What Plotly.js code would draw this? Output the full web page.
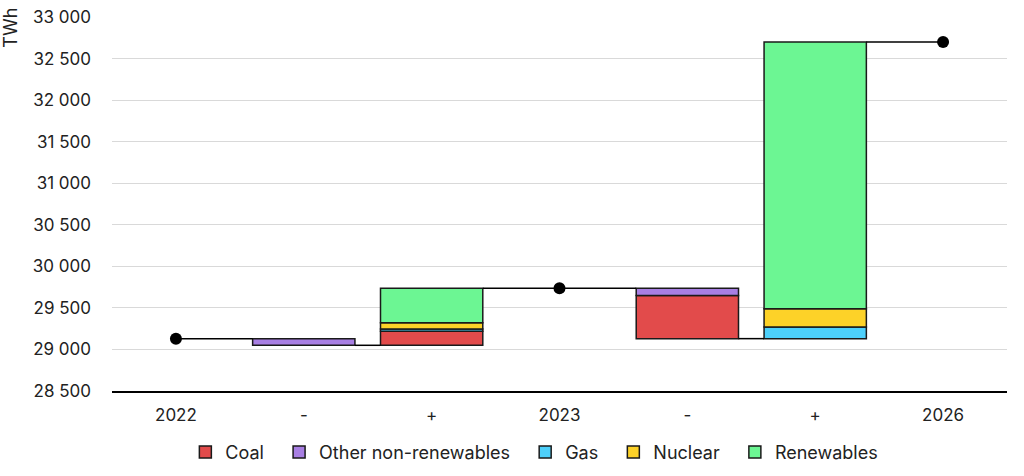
<!DOCTYPE html>
<html>
<head>
<meta charset="utf-8">
<script src="https://cdn.plot.ly/plotly-3.0.1.min.js"></script>
<style>
  html, body { margin: 0; padding: 0; background: #fff; }
  #chart { width: 1024px; height: 476px; }
</style>
</head>
<body>
<div id="chart"></div>
<script>
// Column labels along the x axis.
const columns = ['2022', '-', '+', '2023', '-', '+', '2026'];

// Total generation (TWh) at the three milestone years.
const totalYears = ['2022', '2023', '2026'];
const totals = [29130, 29735, 32700];

// Change by source (TWh) for 2022-2023 and 2023-2026.
const periods = ['2022-2023', '2023-2026'];
const sources = ['Coal', 'Other non-renewables', 'Gas', 'Nuclear', 'Renewables'];
const coalChange = [170, -520];
const otherChange = [-80, -85];
const gasChange = [25, 140];
const nuclearChange = [75, 220];
const renewablesChange = [415, 3210];

const colors = ['#e24b4b', '#a87fe3', '#4dd0fb', '#fdd228', '#6cf693'];
const changes = [coalChange, otherChange, gasChange, nuclearChange, renewablesChange];

const barWidth = 0.8;

// Work out the stacked bases for every source in every column.
const heights = sources.map(() => columns.map(() => null));
const bases = sources.map(() => columns.map(() => null));
const afterDrop = [];
for (var p = 0; p < periods.length; p++) {
  const before = totals[p];
  let drop = 0;
  for (var s = 0; s < sources.length; s++) {
    if (changes[s][p] < 0) drop += changes[s][p];
  }
  const low = before + drop;
  afterDrop.push(low);

  // Decreases: stacked up from the lower level.
  let level = low;
  for (var s = 0; s < sources.length; s++) {
    if (changes[s][p] < 0) {
      heights[s][3 * p + 1] = -changes[s][p];
      bases[s][3 * p + 1] = level;
      level += -changes[s][p];
    }
  }
  // Increases: stacked up from the lower level too.
  level = low;
  for (var s = 0; s < sources.length; s++) {
    if (changes[s][p] > 0) {
      heights[s][3 * p + 2] = changes[s][p];
      bases[s][3 * p + 2] = level;
      level += changes[s][p];
    }
  }
}

const xIdx = columns.map((_, i) => i);
const data = [];

// Connector lines between the bars.
const lx = [], ly = [];
for (var p = 0; p < periods.length; p++) {
  const t = 3 * p;
  const startX = p == 0 ? t : t - 1 + barWidth / 2;
  lx.push(startX, t + 1 - barWidth / 2, null);
  ly.push(totals[p], totals[p], null);
  lx.push(t + 1 + barWidth / 2, t + 2 - barWidth / 2, null);
  ly.push(afterDrop[p], afterDrop[p], null);
}
lx.push(columns.length - 2 + barWidth / 2, columns.length - 1);
ly.push(totals[totals.length - 1], totals[totals.length - 1]);

for (var s = 0; s < sources.length; s++) {
  data.push({
    type: 'bar',
    name: sources[s] + '\u00a0\u00a0',
    x: xIdx,
    y: heights[s],
    base: bases[s],
    width: barWidth,
    marker: {
      color: colors[s],
      line: { color: '#1a1a1a', width: 1.5 }
    },
    hoverinfo: 'skip'
  });
}

data.push({
  type: 'scatter',
  mode: 'lines',
  x: lx,
  y: ly,
  line: { color: '#000', width: 1.5 },
  showlegend: false,
  hoverinfo: 'skip'
});

data.push({
  type: 'scatter',
  mode: 'markers',
  x: totalYears.map(y => columns.indexOf(y)),
  y: totals,
  marker: { color: '#000', size: 12 },
  showlegend: false,
  hoverinfo: 'skip'
});

const layout = {
  width: 1024,
  height: 476,
  margin: { l: 112, r: 17, t: 17, b: 85, autoexpand: false },
  paper_bgcolor: '#fff',
  plot_bgcolor: '#fff',
  barmode: 'overlay',
  separators: '. ',
  font: { family: 'Inter, Roboto, sans-serif', size: 17, color: '#222' },
  xaxis: {
    range: [-0.5, columns.length - 0.5],
    tickmode: 'array',
    tickvals: xIdx,
    ticktext: columns,
    showgrid: false,
    zeroline: false,
    showline: true,
    linecolor: '#000',
    linewidth: 1.5,
    ticks: '',
    ticklabelstandoff: 8
  },
  yaxis: {
    range: [28500, 33000],
    dtick: 500,
    tickformat: ',d',
    showgrid: true,
    gridcolor: '#d9d9d9',
    gridwidth: 1,
    zeroline: false,
    showline: false,
    ticks: '',
    ticklabelstandoff: 20
  },
  legend: {
    orientation: 'h',
    xref: 'paper',
    x: 0.4775,
    xanchor: 'center',
    yref: 'container',
    y: 0.05,
    yanchor: 'middle',
    traceorder: 'normal',
    itemwidth: 30,
    font: { size: 18 }
  },
  annotations: [{
    text: 'TWh',
    xref: 'paper',
    yref: 'paper',
    x: -0.113,
    y: 1.03,
    xanchor: 'center',
    yanchor: 'top',
    textangle: -90,
    showarrow: false,
    font: { size: 18 }
  }]
};

Plotly.newPlot('chart', data, layout, { displayModeBar: false, staticPlot: true });
</script>
</body>
</html>
